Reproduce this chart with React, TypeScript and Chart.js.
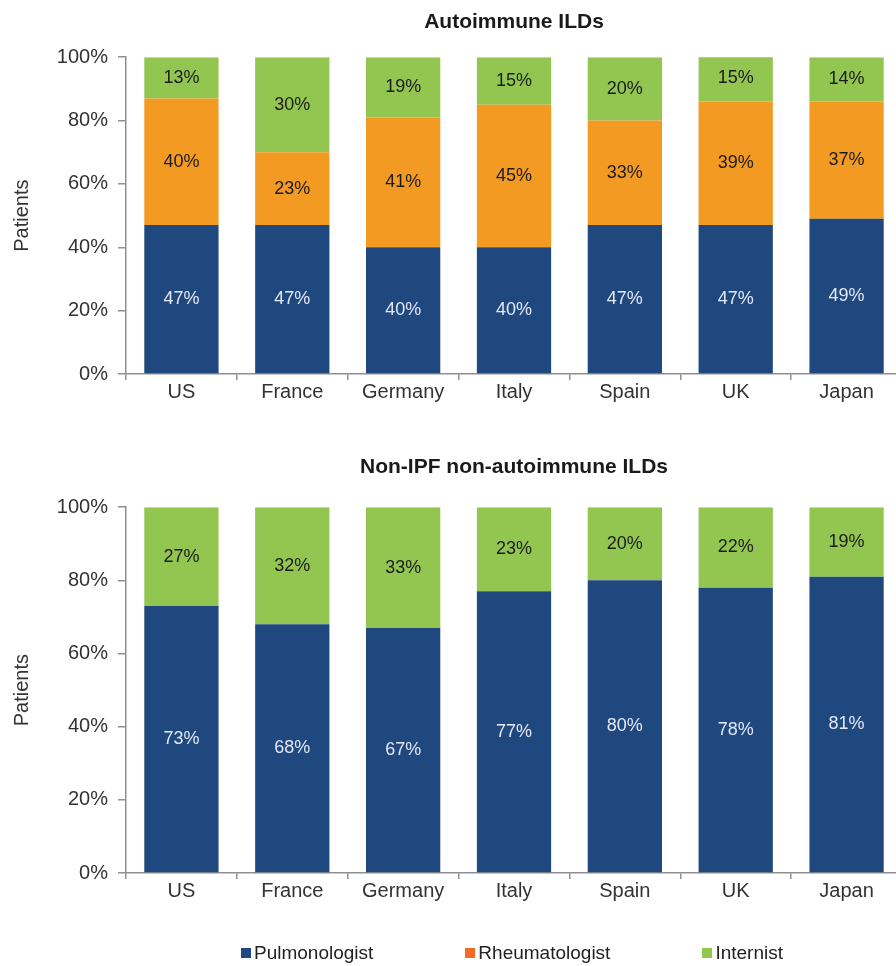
import React, { useEffect, useRef } from 'react';
import { Chart, registerables } from 'chart.js';

Chart.register(...registerables);

const categories = ['US', 'France', 'Germany', 'Italy', 'Spain', 'UK', 'Japan'];
const autoPulmonologist = [47, 47, 40, 40, 47, 47, 49];
const autoRheumatologist = [40, 23, 41, 45, 33, 39, 37];
const autoInternist = [13, 30, 19, 15, 20, 15, 14];
const nonPulmonologist = [73, 68, 67, 77, 80, 78, 81];
const nonInternist = [27, 32, 33, 23, 20, 22, 19];
const yTicks = [0, 20, 40, 60, 80, 100];
const titleTop = 'Autoimmune ILDs';
const titleBottom = 'Non-IPF non-autoimmune ILDs';
const yTitle = 'Patients';
const legendNames = ['Pulmonologist', 'Rheumatologist', 'Internist'];

const BLUE = '#1f497e';
const ORANGE = '#f39a22';
const GREEN = '#92c650';
const LEGEND_COLORS = [BLUE, '#f26a25', GREEN];
const FONT = '"Liberation Sans", Arial, Helvetica, sans-serif';

const labelColorFor = (label: string) => (label === 'Pulmonologist' ? '#e4e6f6' : '#1c1c1c');

const valueLabels = {
  id: 'valueLabels',
  afterDatasetsDraw(chart: any) {
    const ctx = chart.ctx;
    chart.data.datasets.forEach((ds: any, i: number) => {
      const meta = chart.getDatasetMeta(i);
      meta.data.forEach((bar: any, j: number) => {
        const v = ds.data[j];
        if (!v) return;
        const p = bar.getProps(['x', 'y', 'base'], true);
        ctx.save();
        ctx.font = `18px ${FONT}`;
        ctx.fillStyle = labelColorFor(ds.label);
        ctx.textAlign = 'center';
        ctx.textBaseline = 'middle';
        ctx.fillText(`${v}%`, p.x, (p.y + p.base) / 2);
        ctx.restore();
      });
    });
  },
};

function makeOptions(title: string, titlePad: { top: number; bottom: number }, bottomPad: number): any {
  return {
    responsive: false,
    animation: false,
    layout: { padding: { left: 0, right: 0, top: 0, bottom: bottomPad } },
    plugins: {
      legend: { display: false },
      tooltip: { enabled: false },
      title: {
        display: true,
        text: title,
        fullSize: false,
        color: '#1a1a1a',
        font: { size: 21, weight: 'bold', family: FONT },
        padding: titlePad,
      },
    },
    scales: {
      x: {
        stacked: true,
        grid: {
          display: true,
          offset: true,
          drawOnChartArea: false,
          drawTicks: true,
          tickLength: 6,
          color: '#8f8f8f',
          lineWidth: 1.5,
        },
        border: { display: true, color: '#8f8f8f', width: 1.5 },
        ticks: { color: '#333', font: { size: 20, family: FONT }, padding: 0, maxRotation: 0, autoSkip: false },
        afterFit(scale: any) {
          scale.height = 46;
        },
      },
      y: {
        stacked: true,
        min: 0,
        max: 100,
        grid: {
          display: true,
          drawOnChartArea: false,
          drawTicks: true,
          tickLength: 8,
          color: '#8f8f8f',
          lineWidth: 1.5,
        },
        border: { display: true, color: '#8f8f8f', width: 1.5 },
        afterBuildTicks(scale: any) {
          scale.ticks = yTicks.map((v) => ({ value: v }));
        },
        ticks: {
          color: '#333',
          font: { size: 20, family: FONT },
          padding: 10,
          callback: (v: any) => `${v}%`,
        },
        title: {
          display: true,
          text: yTitle,
          color: '#333',
          font: { size: 20, family: FONT },
          padding: { top: 10, bottom: 0 },
        },
        afterFit(scale: any) {
          scale.width = 126;
        },
      },
    },
  };
}

export default function App() {
  const ref1 = useRef<HTMLCanvasElement>(null);
  const ref2 = useRef<HTMLCanvasElement>(null);

  useEffect(() => {
    Chart.defaults.font.family = FONT;
    const bar = { categoryPercentage: 1, barPercentage: 0.67, borderWidth: 0 };
    const c1 = new Chart(ref1.current as HTMLCanvasElement, {
      type: 'bar',
      data: {
        labels: categories,
        datasets: [
          { label: 'Pulmonologist', data: autoPulmonologist, backgroundColor: BLUE, ...bar },
          { label: 'Rheumatologist', data: autoRheumatologist, backgroundColor: ORANGE, ...bar },
          { label: 'Internist', data: autoInternist, backgroundColor: GREEN, ...bar },
        ],
      },
      options: makeOptions(titleTop, { top: 10, bottom: 22 }, 0),
      plugins: [valueLabels],
    });
    const c2 = new Chart(ref2.current as HTMLCanvasElement, {
      type: 'bar',
      data: {
        labels: categories,
        datasets: [
          { label: 'Pulmonologist', data: nonPulmonologist, backgroundColor: BLUE, ...bar },
          { label: 'Internist', data: nonInternist, backgroundColor: GREEN, ...bar },
        ],
      },
      options: makeOptions(titleBottom, { top: 25, bottom: 27 }, 47),
      plugins: [valueLabels],
    });
    return () => {
      c1.destroy();
      c2.destroy();
    };
  }, []);

  return (
    <div
      style={{
        position: 'fixed',
        left: 0,
        top: 0,
        width: 896,
        height: 966,
        overflow: 'hidden',
        background: '#fff',
        fontFamily: FONT,
      }}
    >
      <canvas ref={ref1} width={902} height={420} style={{ position: 'absolute', left: 0, top: 0 }} />
      <canvas ref={ref2} width={902} height={536} style={{ position: 'absolute', left: 0, top: 430 }} />
      <div
        style={{
          position: 'absolute',
          left: 0,
          top: 941,
          width: 1024,
          height: 24,
          display: 'flex',
          justifyContent: 'center',
          alignItems: 'center',
          gap: 92,
        }}
      >
        {legendNames.map((name, i) => (
          <div key={name} style={{ display: 'flex', alignItems: 'center' }}>
            <span style={{ display: 'inline-block', width: 10, height: 10, background: LEGEND_COLORS[i], marginRight: 3 }} />
            <span style={{ fontSize: 19, color: '#222', lineHeight: '24px' }}>{name}</span>
          </div>
        ))}
      </div>
    </div>
  );
}
